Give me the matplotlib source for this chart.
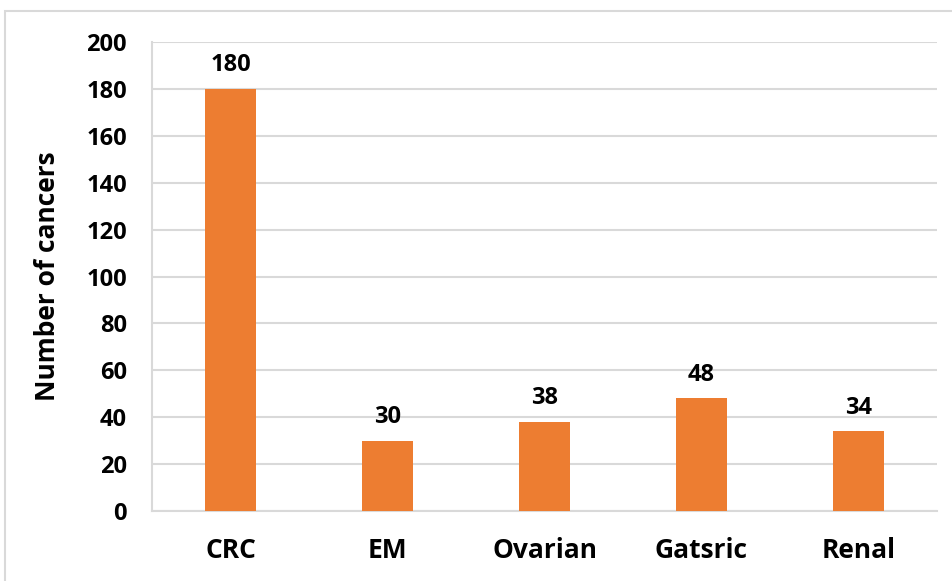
import matplotlib.pyplot as plt
from matplotlib.patches import Rectangle

categories = ["CRC", "EM", "Ovarian", "Gatsric", "Renal"]
counts = [180, 30, 38, 48, 34]
y_ticks = list(range(0, 201, 20))

plt.rcParams['font.family'] = ['Open Sans', 'DejaVu Sans']
plt.rcParams['font.weight'] = 'bold'

W, H = 953, 581
fig = plt.figure(figsize=(W / 100, H / 100), dpi=100)
ax = fig.add_axes([152 / W, 70 / H, 785 / W, 469 / H])

# outer chart border
fig.patches.append(Rectangle((5 / W, -0.05), 1.0, (H - 11) / H + 0.05,
                             transform=fig.transFigure, fill=False,
                             edgecolor='#d9d9d9', linewidth=1.5))

x = range(len(categories))
bars = ax.bar(x, counts, width=0.32, color='#ED7D31', zorder=3)
for xi, v in zip(x, counts):
    ax.text(xi, v + 5, str(v), ha='center', va='bottom',
            fontsize=17, fontweight='bold')

ax.set_xlim(-0.5, len(categories) - 0.5)
ax.set_ylim(0, 200)
ax.set_yticks(y_ticks)
ax.set_xticks(list(x))
ax.set_xticklabels(categories, fontsize=19, fontweight='bold')
ax.tick_params(axis='x', length=0, pad=19)
ax.tick_params(axis='y', length=0, pad=18, labelsize=17)
for lbl in ax.get_yticklabels():
    lbl.set_fontweight('bold')

ax.grid(axis='y', color='#d9d9d9', linewidth=1.5, zorder=0)
for s in ['top', 'right']:
    ax.spines[s].set_visible(False)
ax.spines['left'].set_color('#d9d9d9')
ax.spines['left'].set_linewidth(1.5)
ax.spines['bottom'].set_color('#d9d9d9')
ax.spines['bottom'].set_linewidth(1.5)

ax.set_ylabel("Number of cancers", fontsize=19, fontweight='bold', labelpad=18)

fig.savefig("out.png", dpi=100)
